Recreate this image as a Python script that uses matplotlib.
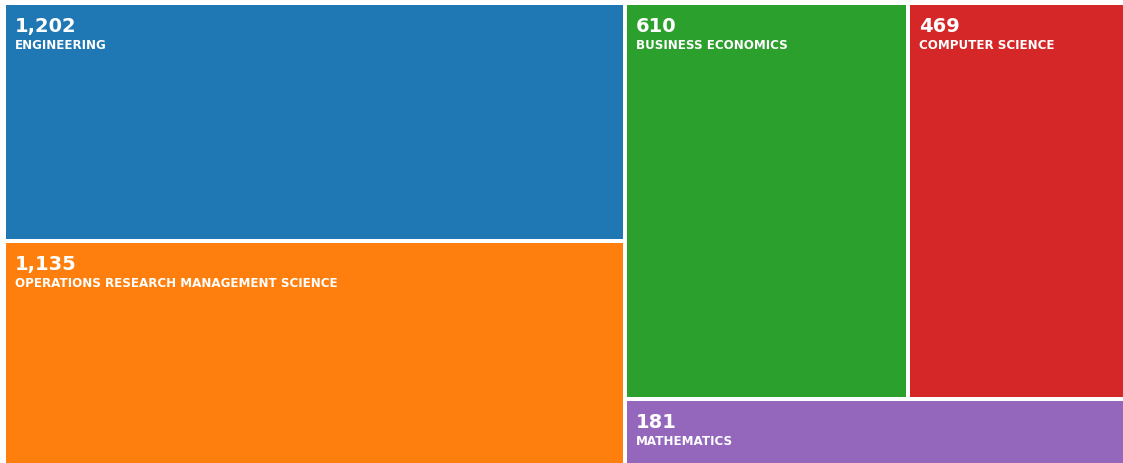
import matplotlib
matplotlib.use('Agg')
import matplotlib.pyplot as plt
from matplotlib.patches import Rectangle
from matplotlib.transforms import offset_copy

categories = ["ENGINEERING", "OPERATIONS RESEARCH MANAGEMENT SCIENCE",
              "BUSINESS ECONOMICS", "COMPUTER SCIENCE", "MATHEMATICS"]
counts = [1202, 1135, 610, 469, 181]
colors = ["#1f77b4", "#ff7f0e", "#2ca02c", "#d62728", "#9467bd"]

# layout setting: share of width given to the left column (as in the source tool)
LEFT_SHARE = 0.554

W, H = 1123, 463
fig = plt.figure(figsize=(W / 100, H / 100), dpi=100)
ax = fig.add_axes([4 / W, -2 / H, 1121 / W, 462 / H])
ax.set_xlim(0, 1)
ax.set_ylim(1, 0)
ax.axis('off')

c = counts
rects = []
# left column: first two categories stacked
he = c[0] / (c[0] + c[1])
rects.append((0, 0, LEFT_SHARE, he))
rects.append((0, he, LEFT_SHARE, 1 - he))
# right part: top row of two, bottom row of one
t = (c[2] + c[3]) / (c[2] + c[3] + c[4])
rw = 1 - LEFT_SHARE
gw = rw * c[2] / (c[2] + c[3])
rects.append((LEFT_SHARE, 0, gw, t))
rects.append((LEFT_SHARE + gw, 0, rw - gw, t))
rects.append((LEFT_SHARE, t, rw, 1 - t))

num_tr = offset_copy(ax.transData, fig=fig, x=11, y=-29, units='dots')
lab_tr = offset_copy(ax.transData, fig=fig, x=11, y=-46, units='dots')

for (x, y, w, h), cat, val, col in zip(rects, categories, counts, colors):
    ax.add_patch(Rectangle((x, y), w, h, facecolor=col, edgecolor='white',
                           linewidth=2.88))
    ax.text(x, y, f"{val:,}", transform=num_tr, color='white', fontsize=14,
            fontweight='bold', family='DejaVu Sans', ha='left', va='baseline')
    ax.text(x, y, cat, transform=lab_tr, color='white', fontsize=8.6,
            fontweight='bold', family='DejaVu Sans', ha='left', va='baseline')

fig.savefig('out.png', dpi=100, facecolor='white')
